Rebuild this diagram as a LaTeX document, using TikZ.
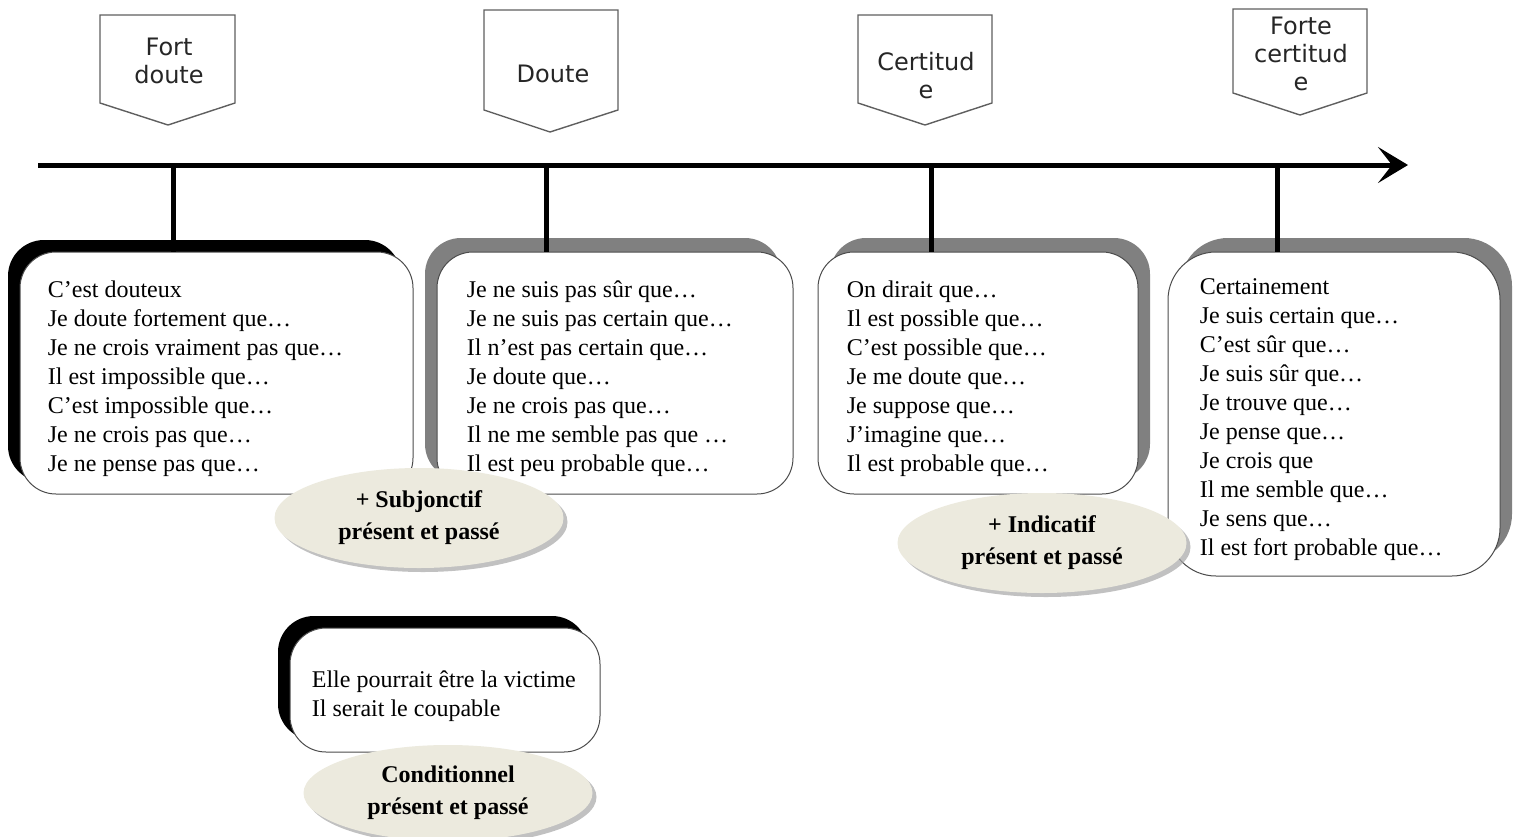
\documentclass[tikz,border=0pt]{standalone}
\usepackage{fontspec}
\setmainfont{Liberation Serif}
\newfontfamily\tagfont{DejaVu Sans}
\usetikzlibrary{arrows.meta,positioning,shapes.geometric,shadows}
\definecolor{moodfill}{RGB}{236,234,222}
\definecolor{tagline}{RGB}{95,95,95}
\tikzset{
	tagshape/.style={draw=tagline, line width=0.7pt, fill=white},
	tagtext/.style={font=\tagfont\fontsize{12}{14}\selectfont, align=center, text=black!85, inner sep=0pt},
	axis/.style={line width=2.5pt, -{Stealth[length=15pt,width=18pt,inset=7pt]}},
	tick/.style={line width=2.5pt},
	listbox/.style={draw=black!70, line width=0.5pt, fill=white, rounded corners=18pt, inner sep=0pt},
	leftdark/.style={drop shadow={shadow xshift=-6pt, shadow yshift=6pt, fill=black, opacity=1}},
	leftgray/.style={drop shadow={shadow xshift=-6pt, shadow yshift=7pt, fill=black!50, opacity=1}},
	rightgray/.style={drop shadow={shadow xshift=6pt, shadow yshift=7pt, fill=black!50, opacity=1}},
	listtext/.style={align=left, inner sep=0pt, yshift=-3pt, font=\fontsize{12}{14.5}\selectfont},
	mood/.style={ellipse, fill=moodfill, align=center, inner sep=0pt,
		font=\bfseries\fontsize{12}{16}\selectfont,
		drop shadow={shadow xshift=2pt, shadow yshift=-2pt, fill=black!35, opacity=.7}}
}

\begin{document}
\begin{tikzpicture}[x=0.5pt,y=-0.5pt]
	\useasboundingbox (0,0) rectangle (1516,836);
	% degree labels
	\draw[tagshape] (100,15) -- (235,15) -- (235,103) -- (168,125) -- (100,103) -- cycle;
	\node[tagtext] (fortdoute) at (169,61) {Fort\\doute};
	\draw[tagshape] (484,10) -- (618,10) -- (618,110) -- (550,132) -- (484,110) -- cycle;
	\node[tagtext] (doute) at (553,74) {Doute};
	\draw[tagshape] (858,15) -- (992,15) -- (992,103) -- (925,125) -- (858,103) -- cycle;
	\node[tagtext] (certitude) at (926,76) {Certitud\\e};
	\draw[tagshape] (1233,9) -- (1367,9) -- (1367,93) -- (1300,115) -- (1233,93) -- cycle;
	\node[tagtext] (fortecertitude) at (1301,54) {Forte\\certitud\\e};
	% axis
	\coordinate (start) at (38,165);
	\coordinate (end) at (1408,165);
	\draw[axis] (start) -- (end);
	\coordinate (t1) at (173,165);
	\coordinate (t2) at (546,165);
	\coordinate (t3) at (931,165);
	\coordinate (t4) at (1277,165);
	% boxes
	\node[listbox, leftdark, minimum width=196.5pt, minimum height=121pt] (b1) at (216.5,373) {};
	\node[listbox, leftgray, minimum width=178pt, minimum height=121pt] (b2) at (615,373) {};
	\node[listbox, rightgray, minimum width=160pt, minimum height=121pt] (b3) at (978,373) {};
	\node[listbox, rightgray, rounded corners=24pt, minimum width=166pt, minimum height=162pt] (b4) at (1334,414) {};
	\node[listbox, leftdark, minimum width=155pt, minimum height=62pt] (b5) at (445,690) {};
	\draw[tick] (t1) -- (t1 |- b1.north);
	\draw[tick] (t2) -- (t2 |- b2.north);
	\draw[tick] (t3) -- (t3 |- b3.north);
	\draw[tick] (t4) -- (t4 |- b4.north);
	\node[listtext, right=14pt of b1.west] (l1) {C’est douteux\\Je doute fortement que…\\Je ne crois vraiment pas que…\\Il est impossible que…\\C’est impossible que…\\Je ne crois pas que…\\Je ne pense pas que…};
	\node[listtext, right=15pt of b2.west] (l2) {Je ne suis pas sûr que…\\Je ne suis pas certain que…\\Il n’est pas certain que…\\Je doute que…\\Je ne crois pas que…\\Il ne me semble pas que …\\Il est peu probable que…};
	\node[listtext, right=14.5pt of b3.west] (l3) {On dirait que…\\Il est possible que…\\C’est possible que…\\Je me doute que…\\Je suppose que…\\J’imagine que…\\Il est probable que…};
	\node[listtext, right=16pt of b4.west] (l4) {Certainement\\Je suis certain que…\\C’est sûr que…\\Je suis sûr que…\\Je trouve que…\\Je pense que…\\Je crois que\\Il me semble que…\\Je sens que…\\Il est fort probable que…};
	\node[listtext, right=11pt of b5.west] (l5) {Elle pourrait être la victime\\Il serait le coupable};
	% moods
	\node[mood, minimum width=144.5pt, minimum height=50pt] (subj) at (419,518) {+ Subjonctif\\présent et passé};
	\node[mood, minimum width=144.5pt, minimum height=50pt] (ind) at (1042,543) {+ Indicatif\\présent et passé};
	\node[mood, minimum width=144.5pt, minimum height=48pt] (cond) at (448,793) {Conditionnel\\présent et passé};
\end{tikzpicture}
\end{document}
